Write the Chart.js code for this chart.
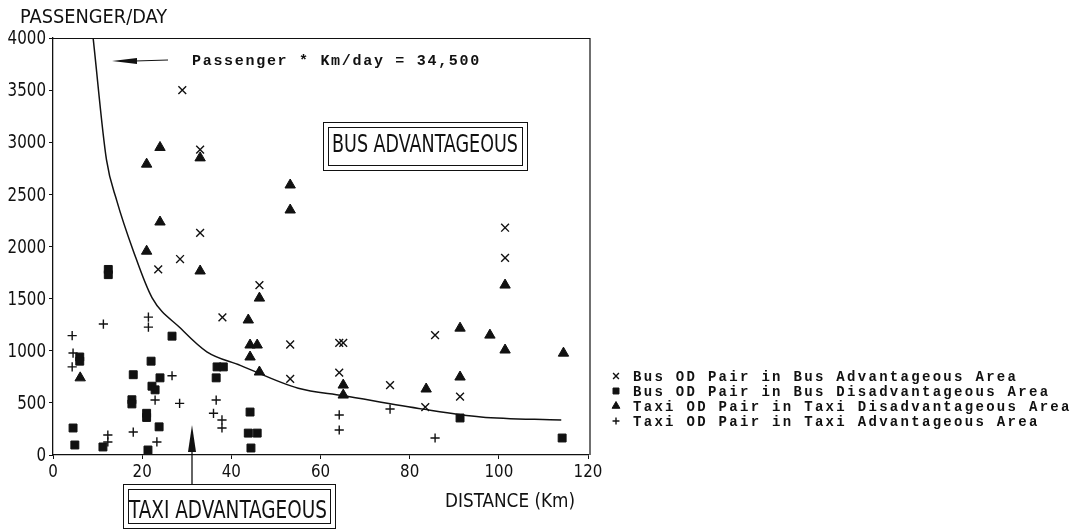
<!DOCTYPE html>
<html>
<head>
<meta charset="utf-8">
<script src="https://cdn.jsdelivr.net/npm/chart.js@4/dist/chart.umd.min.js"></script>
<style>
  body { margin: 0; background: #fff; }
  #wrap { width: 1085px; height: 530px; }
</style>
</head>
<body>
<div id="wrap"><canvas id="odChart" width="1085" height="530"></canvas></div>
<script>
// values (distance km, passengers/day)
const busAdvX = [29, 33, 33, 28.5, 23.6, 46.3, 38, 53.2, 53.2, 64.2, 65.1, 64.2, 75.6, 85.7, 83.5, 91.3, 101.4, 101.4];
const busAdvY = [3500, 2930, 2130, 1880, 1780, 1630, 1320, 1060, 730, 1075, 1075, 790, 670, 1150, 460, 560, 2180, 1890];

const busDisX = [12.4, 12.4, 26.7, 22, 18, 24, 22.2, 22.9, 17.7, 17.7, 21, 21, 23.8, 11.2, 21.3, 4.5, 4.9, 6, 6, 36.8, 38.2, 36.6, 44.2, 43.8, 45.8, 44.4, 91.3, 114.2];
const busDisY = [1780, 1730, 1140, 900, 770, 740, 660, 625, 530, 490, 400, 360, 270, 77, 48, 259, 96, 940, 900, 845, 845, 740, 412, 210, 210, 67, 355, 163];

const taxiDisX = [21, 24, 33, 53.2, 53.2, 24, 21, 33, 46.3, 43.8, 44.2, 45.8, 44.2, 46.3, 6.1, 65.1, 65.1, 83.7, 91.3, 91.3, 98, 101.4, 101.4, 114.5];
const taxiDisY = [2790, 2950, 2850, 2590, 2350, 2235, 1955, 1765, 1505, 1295, 1055, 1055, 940, 796, 740, 671, 575, 633, 748, 1217, 1150, 1007, 1630, 977];

const taxiAdvX = [4.3, 4.5, 4.3, 11.3, 21.4, 21.4, 26.7, 22.9, 28.4, 36.6, 36, 37.9, 37.9, 18, 12.3, 12.3, 23.3, 64.2, 64.2, 75.6, 85.7];
const taxiAdvY = [1145, 978, 845, 1256, 1323, 1227, 760, 527, 495, 527, 400, 336, 259, 220, 192, 125, 125, 384, 240, 441, 163];

// Passenger * Km/day = 34,500 curve
const curveX = [9, 12, 14.3, 18, 22.2, 28.5, 34.5, 42, 55, 65, 83, 96, 114];
const curveY = [4000, 2830, 2440, 1960, 1510, 1220, 990, 860, 640, 570, 440, 365, 335];

const xTicks = [0, 20, 40, 60, 80, 100, 120];
const yTicks = [0, 500, 1000, 1500, 2000, 2500, 3000, 3500, 4000];

const legendLabels = [
  'Bus OD Pair in Bus Advantageous Area',
  'Bus OD Pair in Bus Disadvantageous Area',
  'Taxi OD Pair in Taxi Disadvantageous Area',
  'Taxi OD Pair in Taxi Advantageous Area'
];

const ink = '#111';
const narrow = '"Liberation Sans Narrow", "DejaVu Sans Condensed", "Liberation Sans", Arial, sans-serif';
const mono = '"Liberation Mono", "DejaVu Sans Mono", monospace';

function pts(xs, ys) {
  return xs.map((x, i) => ({ x: x, y: ys[i] }));
}

const markerStyles = [
  { pointStyle: 'crossRot', radius: 5.5, borderWidth: 1.4 },
  { pointStyle: 'rect', radius: 5.6, borderWidth: 1 },
  { pointStyle: 'triangle', radius: 6, borderWidth: 1 },
  { pointStyle: 'cross', radius: 4.6, borderWidth: 1.4 }
];

function arrowHead(ctx, tipX, tipY, baseX, baseY, half) {
  const dx = baseX - tipX, dy = baseY - tipY;
  const len = Math.hypot(dx, dy);
  const nx = -dy / len * half, ny = dx / len * half;
  ctx.beginPath();
  ctx.moveTo(tipX, tipY);
  ctx.lineTo(baseX + nx, baseY + ny);
  ctx.lineTo(baseX - nx, baseY - ny);
  ctx.closePath();
  ctx.fill();
}

function doubleBox(ctx, x1, y1, x2, y2) {
  ctx.lineWidth = 1;
  ctx.strokeRect(x1 + 0.5, y1 + 0.5, x2 - x1, y2 - y1);
  ctx.strokeRect(x1 + 5.5, y1 + 5.5, x2 - x1 - 10, y2 - y1 - 10);
}

const decor = {
  id: 'decor',
  afterDraw(chart) {
    const ctx = chart.ctx;
    const a = chart.chartArea;
    const sx = chart.scales.x, sy = chart.scales.y;
    ctx.save();
    ctx.fillStyle = ink;
    ctx.strokeStyle = ink;

    // frame top + right
    ctx.lineWidth = 1.2;
    ctx.beginPath();
    ctx.moveTo(a.left, a.top + 0.5);
    ctx.lineTo(a.right + 2, a.top + 0.5);
    ctx.lineTo(a.right + 2, a.bottom);
    ctx.stroke();

    // tick labels (narrow lettering of the original)
    ctx.font = '17px ' + narrow;
    ctx.textAlign = 'center';
    ctx.textBaseline = 'top';
    xTicks.forEach(v => {
      const t = String(v);
      ctx.fillText(t, sx.getPixelForValue(v), 464, t.length * 9.6);
    });
    ctx.font = '20px ' + narrow;
    ctx.textAlign = 'right';
    ctx.textBaseline = 'middle';
    yTicks.forEach(v => {
      const t = String(v);
      ctx.fillText(t, 46, sy.getPixelForValue(v) + 1, t.length * 9.6);
    });

    // axis titles
    ctx.font = '20px ' + narrow;
    ctx.textAlign = 'left';
    ctx.textBaseline = 'alphabetic';
    ctx.fillText('PASSENGER/DAY', 20, 23, 147);
    ctx.font = '19px ' + narrow;
    ctx.fillText('DISTANCE (Km)', 445, 507, 130);

    // curve label + arrow
    ctx.font = 'bold 15px ' + mono;
    ctx.letterSpacing = '1.7px';
    ctx.fillText('Passenger * Km/day = 34,500', 192, 65);
    ctx.letterSpacing = '0px';
    ctx.lineWidth = 1;
    ctx.beginPath();
    ctx.moveTo(135, 61);
    ctx.lineTo(168, 60);
    ctx.stroke();
    arrowHead(ctx, 112, 61, 137, 61, 3);

    // region boxes
    doubleBox(ctx, 323, 122, 527, 170);
    ctx.font = '25px ' + narrow;
    ctx.textAlign = 'center';
    ctx.fillText('BUS ADVANTAGEOUS', 425, 152, 186);

    doubleBox(ctx, 123, 484, 335, 528);
    ctx.textAlign = 'left';
    ctx.fillText('TAXI ADVANTAGEOUS', 129, 518, 198);

    // taxi arrow
    ctx.lineWidth = 1.3;
    ctx.beginPath();
    ctx.moveTo(192, 484);
    ctx.lineTo(192, 445);
    ctx.stroke();
    arrowHead(ctx, 192, 425, 192, 452, 4);

    // legend
    ctx.font = 'bold 14px ' + mono;
    ctx.letterSpacing = '2.3px';
    ctx.textBaseline = 'middle';
    legendLabels.forEach((label, i) => {
      const y = 376 + i * 15;
      const st = markerStyles[i];
      ctx.lineWidth = st.borderWidth;
      Chart.helpers.drawPoint(ctx, {
        pointStyle: st.pointStyle,
        radius: st.radius * 0.75,
        rotation: 0,
        borderWidth: st.borderWidth
      }, 616, y);
      ctx.fillText(label, 633, y + 1);
    });
    ctx.restore();
  }
};

new Chart(document.getElementById('odChart').getContext('2d'), {
  type: 'scatter',
  data: {
    datasets: [
      {
        label: 'curve',
        type: 'line',
        data: pts(curveX, curveY),
        borderColor: ink,
        borderWidth: 1.5,
        pointRadius: 0,
        fill: false,
        cubicInterpolationMode: 'monotone'
      },
      Object.assign({ label: legendLabels[0], data: pts(busAdvX, busAdvY), borderColor: ink, backgroundColor: ink }, markerStyles[0]),
      Object.assign({ label: legendLabels[1], data: pts(busDisX, busDisY), borderColor: ink, backgroundColor: ink }, markerStyles[1]),
      Object.assign({ label: legendLabels[2], data: pts(taxiDisX, taxiDisY), borderColor: ink, backgroundColor: ink }, markerStyles[2]),
      Object.assign({ label: legendLabels[3], data: pts(taxiAdvX, taxiAdvY), borderColor: ink, backgroundColor: ink }, markerStyles[3])
    ]
  },
  options: {
    responsive: false,
    animation: false,
    layout: { padding: { left: 0, top: 38, right: 497, bottom: 0 } },
    plugins: {
      legend: { display: false },
      tooltip: { enabled: false }
    },
    scales: {
      x: {
        type: 'linear',
        min: 0,
        max: 120,
        afterBuildTicks: s => { s.ticks = xTicks.map(v => ({ value: v })); },
        afterFit: s => { s.height = 75; },
        ticks: { display: false },
        grid: { drawOnChartArea: false, tickLength: 4, color: ink },
        border: { color: ink, width: 1.3 }
      },
      y: {
        min: 0,
        max: 4000,
        afterBuildTicks: s => { s.ticks = yTicks.map(v => ({ value: v })); },
        afterFit: s => { s.width = 53; },
        ticks: { display: false },
        grid: { drawOnChartArea: false, tickLength: 4, color: ink },
        border: { color: ink, width: 1.3 }
      }
    }
  },
  plugins: [decor]
});
</script>
</body>
</html>
